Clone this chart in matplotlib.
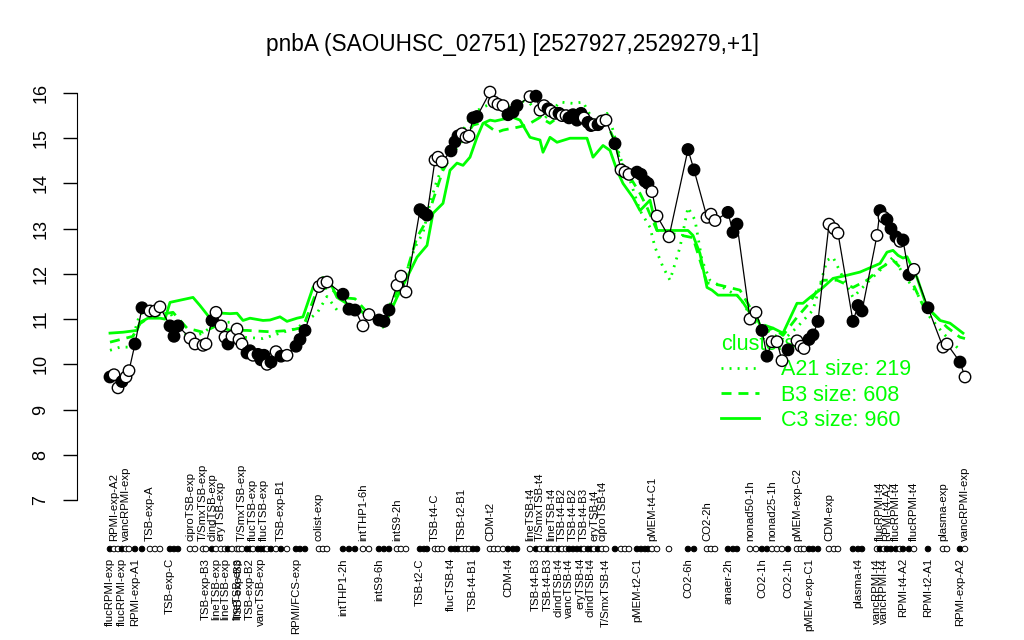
import numpy as np
import matplotlib
matplotlib.use("Agg")
import matplotlib.pyplot as plt
from matplotlib.lines import Line2D

plt.rcParams['font.family'] = ['Liberation Sans', 'DejaVu Sans']

## Data

TITLE = "pnbA (SAOUHSC_02751) [2527927,2529279,+1]"
GREEN = "#00FF00"

# sample position along x, log expression, filled marker (1) or open (0)
xpos = [110, 114, 118, 122, 126, 129, 135, 142, 150, 155, 160, 170, 174, 178, 190, 195,
        203, 206, 212, 216, 221, 225, 228, 232, 237, 239, 242, 247, 250, 253, 258, 261,
        264, 267, 271, 276, 281, 287, 296, 300, 305, 319, 323, 327, 343, 349, 355, 363,
        369, 379, 384, 389, 397, 401, 406, 420, 424, 427, 435, 438, 442, 451, 455, 458,
        462, 466, 469, 473, 477, 490, 494, 498, 503, 508, 513, 517, 530, 536, 540, 544,
        548, 551, 555, 559, 562, 566, 569, 573, 577, 581, 584, 588, 591, 594, 598, 602,
        606, 615, 621, 625, 629, 637, 641, 645, 648, 652, 657, 669, 688, 694, 707, 711,
        715, 728, 733, 737, 750, 756, 762, 767, 772, 777, 782, 788, 797, 801, 804, 809,
        813, 818, 829, 834, 838, 853, 858, 862, 877, 880, 884, 887, 891, 896, 900, 903,
        909, 914, 928, 943, 947, 960, 965]
expr = [9.72, 9.77, 9.48, 9.62, 9.72, 9.86, 10.45, 11.25, 11.18, 11.18, 11.27, 10.85, 10.62, 10.85, 10.58, 10.45,
        10.42, 10.45, 10.97, 11.15, 10.85, 10.6, 10.45, 10.62, 10.78, 10.55, 10.45, 10.25, 10.3, 10.2, 10.22, 10.1,
        10.2, 10.0, 10.05, 10.28, 10.18, 10.2, 10.4, 10.55, 10.75, 11.72, 11.8, 11.82, 11.55, 11.22, 11.2, 10.85,
        11.1, 10.98, 10.95, 11.2, 11.75, 11.95, 11.6, 13.42, 13.35, 13.3, 14.52, 14.58, 14.48, 14.72, 14.92, 15.05,
        15.1, 15.02, 15.05, 15.45, 15.48, 16.02, 15.8, 15.75, 15.72, 15.52, 15.58, 15.72, 15.92, 15.93, 15.62, 15.72,
        15.65, 15.6, 15.55, 15.55, 15.5, 15.5, 15.45, 15.52, 15.4, 15.55, 15.45, 15.35, 15.28, 15.3, 15.3, 15.38,
        15.4, 14.88, 14.3, 14.25, 14.2, 14.25, 14.2, 14.05, 14.0, 13.82, 13.28, 12.82, 14.75, 14.3, 13.25, 13.32,
        13.18, 13.36, 12.92, 13.1, 11.0, 11.15, 10.75, 10.18, 10.5, 10.5, 10.08, 10.32, 10.52, 10.4, 10.35, 10.55,
        10.65, 10.95, 13.1, 13.0, 12.9, 10.95, 11.3, 11.18, 12.85, 13.4, 13.25, 13.2, 13.0, 12.82, 12.72, 12.75,
        11.98, 12.1, 11.25, 10.38, 10.45, 10.05, 9.72]
filled = [1, 0, 0, 1, 0, 0, 1, 1, 0, 0, 0, 1, 1, 1, 0, 0,
          0, 0, 1, 0, 0, 0, 1, 0, 0, 0, 0, 1, 1, 0, 1, 1,
          1, 0, 1, 0, 1, 0, 1, 1, 1, 0, 0, 0, 1, 1, 1, 0,
          0, 1, 1, 1, 0, 0, 0, 1, 1, 1, 0, 0, 0, 1, 1, 1,
          0, 0, 0, 1, 1, 0, 0, 0, 0, 1, 1, 1, 0, 1, 0, 0,
          1, 0, 0, 1, 0, 0, 1, 1, 1, 1, 0, 1, 1, 0, 1, 0,
          0, 1, 0, 0, 0, 1, 1, 1, 1, 0, 0, 0, 1, 1, 0, 0,
          0, 1, 1, 1, 0, 0, 1, 1, 0, 0, 0, 1, 0, 0, 0, 1,
          1, 1, 0, 0, 0, 1, 1, 1, 0, 1, 0, 1, 1, 1, 0, 1,
          1, 0, 1, 0, 0, 1, 0]

# condition labels: (sample index, name, row) -- row T above the dot row, B below
labels = [
    (0, "flucRPMI-exp", "B"), (1, "RPMI-exp-A2", "T"), (3, "flucRPMI-exp", "B"),
    (4, "vancRPMI-exp", "T"), (6, "RPMI-exp-A1", "B"), (8, "TSB-exp-A", "T"),
    (11, "TSB-exp-C", "B"), (14, "ciproTSB-exp", "T"), (16, "T/SmxTSB-exp", "T"),
    (17, "TSB-exp-B3", "B"), (18, "clindTSB-exp", "T"), (19, "lineTSB-exp", "B"),
    (20, "eryTSB-exp", "T"), (21, "lineTSB-exp", "B"), (24, "lineTSB-exp", "B"),
    (25, "TSB-exp-B3", "B"), (26, "T/SmxTSB-exp", "T"), (28, "TSB-exp-B2", "B"),
    (29, "flucTSB-exp", "T"), (31, "vancTSB-exp", "B"), (32, "flucTSB-exp", "T"),
    (36, "TSB-exp-B1", "T"), (38, "RPMI/FCS-exp", "B"), (41, "colist-exp", "T"),
    (44, "intTHP1-2h", "B"), (47, "intTHP1-6h", "T"), (49, "intS9-6h", "B"),
    (52, "intS9-2h", "T"), (55, "TSB-t2-C", "B"), (58, "TSB-t4-C", "T"),
    (61, "flucTSB-t4", "B"), (64, "TSB-t2-B1", "T"), (67, "TSB-t4-B1", "B"),
    (69, "CDM-t2", "T"), (73, "CDM-t4", "B"), (76, "lineTSB-t4", "T"),
    (77, "TSB-t4-B3", "B"), (78, "T/SmxTSB-t4", "T"), (80, "TSB-t4-B3", "B"),
    (81, "lineTSB-t4", "T"), (83, "clindTSB-t4", "B"), (84, "TSB-t4-B2", "T"),
    (86, "vancTSB-t4", "B"), (87, "TSB-t4-B2", "T"), (89, "eryTSB-t4", "B"),
    (90, "TSB-t4-B3", "T"), (92, "clindTSB-t4", "B"), (93, "eryTSB-t4", "T"),
    (95, "ciproTSB-t4", "T"), (96, "T/SmxTSB-t4", "B"), (101, "pMEM-t2-C1", "B"),
    (105, "pMEM-t4-C1", "T"), (108, "CO2-6h", "B"), (110, "CO2-2h", "T"),
    (113, "anaer-2h", "B"), (116, "nonad50-1h", "T"), (118, "CO2-1h", "B"),
    (120, "nonad25-1h", "T"), (123, "CO2-1h", "B"), (124, "pMEM-exp-C2", "T"),
    (127, "pMEM-exp-C1", "B"), (130, "CDM-exp", "T"), (134, "plasma-t4", "B"),
    (136, "vancRPMI-t4", "B"), (137, "flucRPMI-t4", "T"), (138, "vancRPMI-t4", "B"),
    (139, "RPMI-t4-A2", "T"), (141, "flucRPMI-t4", "T"), (143, "RPMI-t4-A2", "B"),
    (145, "flucRPMI-t4", "T"), (146, "RPMI-t2-A1", "B"), (147, "plasma-exp", "T"),
    (149, "RPMI-exp-A2", "B"), (150, "vancRPMI-exp", "T"),
]

# cluster mean profiles
c3_x = [110, 123, 137, 140, 148, 160, 165, 170, 193, 200, 210, 217, 223, 230, 237, 243, 250, 263,
        270, 280, 287, 297, 303, 313, 323, 330, 337, 350, 360, 368, 380, 388, 397, 407, 417, 427,
        433, 443, 450, 457, 463, 470, 477, 483, 490, 495, 507, 513, 520, 530, 540, 543, 550, 557,
        570, 577, 587, 593, 603, 610, 617, 623, 633, 640, 650, 657, 670, 688, 693, 700, 707, 712,
        718, 737, 743, 750, 758, 763, 773, 783, 797, 803, 810, 822, 833, 847, 860, 880, 887, 893,
        898, 903, 907, 917, 927, 940, 950, 963]
c3_y = [10.69, 10.71, 10.75, 10.93, 11.02, 11.02, 11.0, 11.37, 11.48, 11.3, 11.02, 11.13, 11.13, 11.12,
        11.13, 10.97, 11.02, 10.97, 10.98, 11.05, 10.95, 11.02, 11.05, 11.7, 11.92, 11.82, 11.48, 11.3,
        11.2, 11.04, 11.02, 11.04, 11.48, 11.92, 12.37, 12.63, 13.34, 13.56, 14.29, 14.45, 14.4, 14.58,
        15.02, 15.33, 15.4, 15.38, 15.44, 15.46, 15.4, 15.02, 14.96, 14.69, 15.02, 14.91, 15.0, 15.0,
        15.0, 14.58, 14.84, 14.73, 14.29, 14.0, 13.69, 13.4, 13.63, 12.96, 12.96, 12.96, 12.85, 12.45,
        11.7, 11.64, 11.53, 11.53, 11.37, 11.13, 10.97, 10.71, 10.8, 10.69, 11.35, 11.35, 11.48, 11.68,
        11.9, 11.97, 12.04, 12.23, 12.48, 12.52, 12.41, 12.35, 12.38, 11.92, 11.26, 10.97, 10.91, 10.69]

b3_x = [110, 133, 140, 150, 160, 173, 187, 203, 217, 230, 247, 270, 290, 303, 317, 330, 340, 355,
        370, 380, 393, 407, 417, 427, 433, 443, 453, 463, 473, 483, 497, 503, 517, 527, 540, 550,
        563, 573, 583, 593, 607, 613, 620, 630, 640, 647, 657, 693, 707, 720, 740, 750, 760, 773,
        783, 797, 810, 823, 837, 853, 867, 880, 893, 900, 910, 923, 933, 947, 960, 965]
b3_y = [10.49, 10.62, 10.9, 11.05, 11.1, 11.15, 10.8, 10.71, 10.86, 10.75, 10.75, 10.72, 10.75, 10.82,
        11.64, 11.7, 11.48, 11.45, 11.08, 11.0, 11.42, 12.08, 12.81, 13.19, 13.63, 14.29, 14.67, 14.96,
        15.29, 15.35, 15.13, 15.18, 15.24, 15.29, 15.46, 15.33, 15.55, 15.55, 15.57, 15.2, 15.33, 15.02,
        14.51, 14.14, 13.78, 13.47, 12.96, 12.8, 11.8, 11.75, 11.64, 11.26, 10.9, 10.8, 10.64, 11.04,
        11.37, 11.86, 11.86, 11.7, 11.86, 12.12, 12.3, 12.15, 11.92, 11.3, 11.13, 10.82, 10.6, 10.57]

a21_x = [110, 120, 130, 140, 157, 170, 180, 190, 203, 217, 230, 243, 263, 280, 297, 307, 317, 327,
         337, 350, 370, 383, 390, 397, 407, 415, 423, 430, 437, 447, 453, 463, 473, 483, 493, 510,
         520, 530, 543, 560, 573, 583, 593, 607, 613, 620, 630, 640, 650, 655, 663, 670, 680, 688,
         695, 702, 710, 723, 740, 753, 767, 783, 797, 813, 827, 833, 843, 853, 867, 880, 893, 903,
         917, 930, 943, 960]
a21_y = [10.31, 10.38, 10.38, 11.13, 11.08, 11.15, 10.75, 10.6, 10.69, 10.93, 10.93, 10.6, 10.57, 10.69,
         10.8, 10.97, 11.13, 11.5, 11.2, 11.2, 11.2, 10.82, 11.2, 11.7, 12.08, 12.59, 12.9, 13.56, 14.07,
         14.58, 15.02, 15.18, 15.55, 15.69, 15.77, 15.69, 15.84, 15.77, 15.4, 15.8, 15.77, 15.8, 15.4,
         15.55, 15.18, 14.58, 14.07, 13.4, 13.03, 12.59, 12.15, 11.86, 12.59, 13.47, 13.19, 12.3, 11.86,
         11.7, 11.48, 10.97, 10.75, 10.53, 10.82, 11.2, 12.3, 12.37, 11.92, 11.48, 11.8, 12.08, 12.37,
         12.01, 11.57, 11.04, 10.69, 10.31]

cluster_names = ["A21 size: 219", "B3 size: 608", "C3 size: 960"]

## Figure

fig = plt.figure(figsize=(10.24, 6.4), dpi=100)
ax = fig.add_axes([77/1024, 125/640, 918/1024, 440/640])
ax.set_xlim(77, 995)
ax.set_ylim(6.668, 16.398)

dotted = (0.7, 2.2)
dashed = (3.6, 2.5)

ax.plot(a21_x, a21_y, color=GREEN, lw=2, dashes=dotted, zorder=2)
ax.plot(b3_x, b3_y, color=GREEN, lw=2, dashes=dashed, zorder=2)
ax.plot(c3_x, c3_y, color=GREEN, lw=2, zorder=2)

fc = ['black' if f else 'white' for f in filled]
ax.plot(xpos, expr, color='black', lw=0.9, zorder=3)
ax.scatter(xpos, expr, s=68, facecolors=fc, edgecolors='black', linewidths=1, zorder=4)

# dot row + condition labels under the plot
trans = ax.get_xaxis_transform()
ax.scatter(xpos, [-0.0773]*len(xpos), s=16, facecolors=fc, edgecolors='black',
           linewidths=0.7, transform=trans, clip_on=False, zorder=4)
for i, name, row in labels:
    if row == "T":
        ax.text(xpos[i], -0.058, name, rotation=90, ha='center', va='bottom',
                fontsize=8.2, transform=trans)
    else:
        ax.text(xpos[i], -0.098, name, rotation=90, ha='center', va='top',
                fontsize=8.2, transform=trans)

# axis styling, R-like
for s in ['top', 'right', 'bottom']:
    ax.spines[s].set_visible(False)
ax.spines['left'].set_bounds(7, 16)
ax.set_xticks([])
ax.set_yticks(range(7, 17))
ax.set_yticklabels([str(v) for v in range(7, 17)], rotation=90, va='center')
ax.tick_params(axis='y', length=10, width=1, labelsize=13, pad=10)

fig.text(0.5, 1 - 45/640, TITLE, ha='center', va='center', fontsize=16.3)

handles = [Line2D([], [], color=GREEN, lw=2, dashes=dotted),
           Line2D([], [], color=GREEN, lw=2, dashes=dashed),
           Line2D([], [], color=GREEN, lw=2)]
leg = ax.legend(handles, cluster_names, title="clusters", loc='upper left',
                bbox_to_anchor=(721/1024, 1 - 334/640), bbox_transform=fig.transFigure,
                frameon=False, fontsize=15.5, title_fontsize=15.5, labelcolor=GREEN,
                handlelength=1.75, handletextpad=1.05, labelspacing=0.2,
                borderpad=0, borderaxespad=0, alignment='left')
leg.get_title().set_color(GREEN)
leg.set_zorder(1)

fig.savefig("out.png", dpi=100)
